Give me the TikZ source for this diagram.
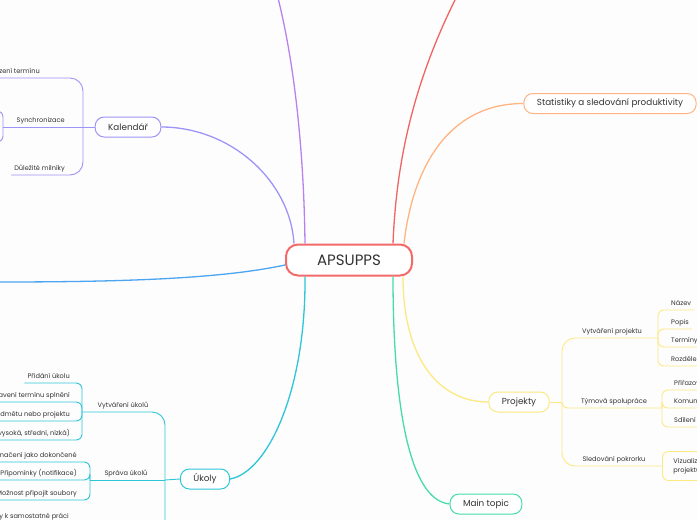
\documentclass[tikz,border=0pt]{standalone}
\usepackage{fontspec}
\setmainfont{Poppins}
\usetikzlibrary{positioning,calc}
\definecolor{ink}{HTML}{333333}
\definecolor{paper}{HTML}{FDFDFD}
\definecolor{rootred}{HTML}{F26A6A}
\definecolor{redl}{HTML}{F26462}
\definecolor{purp}{HTML}{B981EF}
\definecolor{kalcol}{HTML}{9D94F6}
\definecolor{orng}{HTML}{FFB482}
\definecolor{bluel}{HTML}{4CA5F1}
\definecolor{ukcol}{HTML}{2DC6D8}
\definecolor{mintcol}{HTML}{46DCAA}
\definecolor{projcol}{HTML}{FCE981}

\begin{document}
\begin{tikzpicture}[x=1pt,y=-1pt,
  topic/.style={draw=#1,line width=1pt,rounded corners=9pt,fill=white,minimum height=20pt,inner xsep=13pt,font=\fontsize{8.8}{10}\selectfont,text=ink},
  leaf/.style={font=\fontsize{6.6}{8}\selectfont,text=ink,inner xsep=3pt,inner ysep=3pt,text height=5pt,text depth=1.5pt},
  limb/.style={draw=#1,line width=1.3pt},
  twig/.style={draw=#1,line width=0.9pt,rounded corners=6pt}]
\fill[paper] (0,0) rectangle (697,520);
\useasboundingbox (0,0) rectangle (697,520);
\clip (0,0) rectangle (697,520);

% main topics
\node[topic=rootred,line width=2pt,rounded corners=12pt,minimum width=126pt,minimum height=31pt,font=\fontsize{15}{18}\selectfont] (root) at (349,260) {APSUPPS};
\node[topic=kalcol] (kal) at (128,127) {Kalendář};
\node[topic=orng,minimum width=172pt] (stat) at (610,103.5) {Statistiky a sledování produktivity};
\node[topic=projcol] (proj) at (519,402) {Projekty};
\node[topic=mintcol] (main) at (486,504) {Main topic};
\node[topic=ukcol] (uk) at (205,479) {Úkoly};
\coordinate (topL) at (278,-2);
\coordinate (topR) at (456,-2);
\coordinate (farL) at (-2,282);

\draw[limb=purp] ($(root.north)+(-44,0)$) .. controls (304,160) and (296,70) .. (topL);
\draw[limb=redl] ($(root.north)+(44,0)$) .. controls (396,170) and (410,90) .. (topR);
\draw[limb=orng] ($(root.north)+(55,0)$) .. controls (413,165) and (450,103.5) .. (stat.west);
\draw[limb=kalcol] ($(root.north)+(-55,0)$) .. controls (290,180) and (230,127) .. (kal.east);
\draw[limb=bluel] ($(root.west)+(0,5)$) .. controls (220,279) and (120,282) .. (farL);
\draw[limb=ukcol] ($(root.south)+(-44,0)$) .. controls (306,390) and (268,472) .. (uk.east);
\draw[limb=mintcol] ($(root.south)+(44,0)$) .. controls (393,400) and (408,500) .. (main.west);
\draw[limb=projcol] ($(root.south)+(54,0)$) .. controls (403,360) and (440,402) .. (proj.west);

% Kalendar
\coordinate (kj) at (83,127);
\coordinate (ks) at (3,127);
\coordinate (ks1) at (-8,111);
\coordinate (ks2) at (-8,142);
\node[leaf,anchor=south east] (k1) at (43,78) {Zobrazení termínu};
\node[leaf,anchor=south east] (k2) at (68,127) {Synchronizace};
\node[leaf,anchor=south east] (k3) at (68,175) {Důležité milníky};
\draw[twig=kalcol] (kal.west) -- (kj);
\draw[twig=kalcol,rounded corners=13pt] (kj) |- (k1.south west);
\draw[twig=kalcol] (kj) -- (ks);
\draw[twig=kalcol,rounded corners=13pt] (kj) |- (k3.south west);
\draw[twig=kalcol] (ks) |- (ks1);
\draw[twig=kalcol] (ks) |- (ks2);

% Ukoly
\coordinate (uj) at (165,480);
\coordinate (u1j) at (82,412);
\coordinate (u2j) at (90,480);
\coordinate (u3j) at (82,560);
\node[leaf,anchor=south] (u1) at (123,412) {Vytváření úkolů};
\node[leaf,anchor=south] (u2) at (126,480) {Správa úkolů};
\draw[twig=ukcol] (uk.west) -- (uj);
\draw[twig=ukcol,rounded corners=13pt] (uj) |- (u1j);
\draw[twig=ukcol] (uj) -- (u2j);
\draw[twig=ukcol,rounded corners=13pt] (uj) |- (u3j);
\node[leaf,anchor=south east] (u11) at (73,383) {Přidání úkolu};
\node[leaf,anchor=south east] (u12) at (73,402) {Nastavení termínu splnění};
\node[leaf,anchor=south east] (u13) at (73,421) {Přiřazení předmětu nebo projektu};
\node[leaf,anchor=south east] (u14) at (73,440) {Priorita (vysoká, střední, nízká)};
\foreach \n in {u11,u12,u13,u14} \draw[twig=ukcol] (u1j) |- (\n.south west);
\node[leaf,anchor=south east] (u21) at (80,462) {Označení jako dokončené};
\node[leaf,anchor=south east] (u22) at (80,480) {Připomínky (notifikace)};
\node[leaf,anchor=south east] (u23) at (80,500) {Možnost připojit soubory};
\foreach \n in {u21,u22,u23} \draw[twig=ukcol] (u2j) |- (\n.south west);
\node[leaf,anchor=south east] (u31) at (72,523) {Poznámky k samostatné práci};
\draw[twig=ukcol] (u3j) |- (u31.south west);

% Projekty
\coordinate (pj) at (562,402);
\coordinate (p1j) at (658,338);
\coordinate (p2j) at (662,408);
\coordinate (p3j) at (662,466);
\node[leaf,anchor=south] (p1) at (612,338) {Vytváření projektu};
\node[leaf,anchor=south] (p2) at (614,408) {Týmová spolupráce};
\node[leaf,anchor=south] (p3) at (614,466) {Sledování pokrorku};
\draw[twig=projcol] (proj.east) -- (pj);
\draw[twig=projcol,rounded corners=13pt] (pj) |- (p1j);
\draw[twig=projcol] (pj) |- (p2j);
\draw[twig=projcol,rounded corners=13pt] (pj) |- (p3j);
\node[leaf,anchor=south west] (p11) at (668,310) {Název};
\node[leaf,anchor=south west] (p12) at (668,329) {Popis};
\node[leaf,anchor=south west] (p13) at (668,347) {Termíny};
\node[leaf,anchor=south west] (p14) at (668,366) {Rozdělení úkolů};
\foreach \n in {p11,p12,p13,p14} \draw[twig=projcol] (p1j) |- (\n.south east);
\node[leaf,anchor=south west] (p21) at (671,390) {Přiřazování úkolů};
\node[leaf,anchor=south west] (p22) at (671,408) {Komunikace};
\node[leaf,anchor=south west] (p23) at (671,427) {Sdílení souborů};
\foreach \n in {p21,p22,p23} \draw[twig=projcol] (p2j) |- (\n.south east);
\node[draw=projcol,line width=0.9pt,rounded corners=6pt,anchor=west,align=left,inner xsep=11pt,minimum height=29pt,font=\fontsize{6.6}{9}\selectfont,text=ink] (p31) at (p3j) {Vizualizace pokroku\\projektu};
\end{tikzpicture}
\end{document}
